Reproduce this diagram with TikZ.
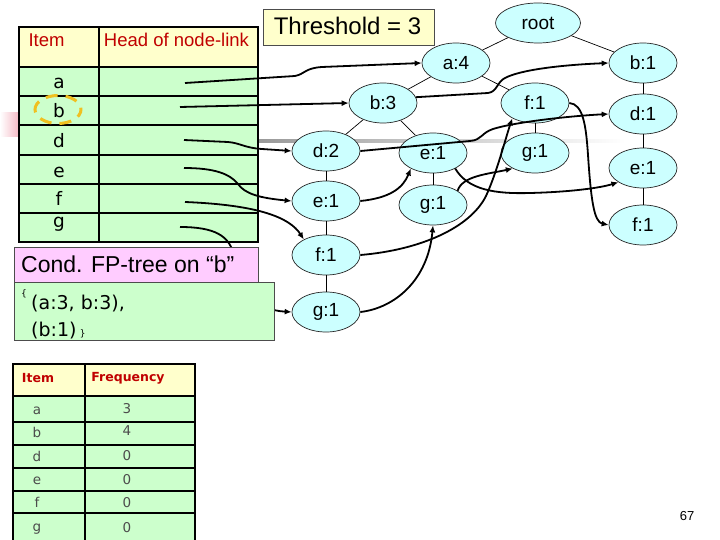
\documentclass[tikz,border=0pt]{standalone}
\usepackage{fontspec}
\setmainfont{Liberation Sans}
\newfontfamily\dvs{DejaVu Sans}
\usetikzlibrary{shapes.geometric,arrows.meta}
\definecolor{tgreen}{HTML}{CCFFCC}
\definecolor{tyellow}{HTML}{FFFFCC}
\definecolor{tpink}{HTML}{FFCCFF}
\definecolor{tcyan}{HTML}{CCFFFF}
\definecolor{hred}{HTML}{C00000}
\definecolor{hilite}{HTML}{F0C020}
\definecolor{slidepink}{HTML}{F4B8C4}
\begin{document}
\begin{tikzpicture}[x=1pt,y=-1pt,
  tnode/.style={ellipse,draw=black!85,line width=0.7pt,fill=tcyan,minimum width=68pt,minimum height=40pt,inner sep=0pt,font=\fontsize{19}{22}\selectfont},
  tedge/.style={line width=0.7pt},
  link/.style={line width=1.8pt,-{Latex[length=7pt,width=6pt]}},
  hdr/.style={text=hred,font=\fontsize{18.5}{21}\selectfont,inner sep=0pt},
  itm/.style={font=\dvs\fontsize{18.5}{21}\selectfont,inner sep=0pt,anchor=base},
  hdrb/.style={text=hred,font=\dvs\bfseries\fontsize{12.5}{14}\selectfont,inner sep=0pt},
  cell/.style={text=black!70,font=\dvs\fontsize{13.5}{15}\selectfont,inner sep=0pt,anchor=base},
  thin grid/.style={line width=1.3pt},
  thick frame/.style={line width=2.6pt},
]
\useasboundingbox (0,0) rectangle (720,540);
\fill[white] (0,0) rectangle (720,540);
% slide decorations
\shade[left color=white,right color=slidepink] (0,113) rectangle (19,137);
\shade[left color=black!40,right color=white] (258,140) rectangle (625,143);

% ---------- header table ----------
\fill[tyellow] (19,27) rectangle (258,67);
\fill[tgreen] (19,67) rectangle (258,242);
\foreach \yy in {67,96,125,155,184,213} \draw[thin grid] (19,\yy) -- (258,\yy);
\draw[thin grid] (99,27) -- (99,242);
\draw[thick frame] (19,27) rectangle (258,242);
\node[hdr] (hitem) at (46.5,40) {Item};
\node[hdr] (hhead) at (176.5,40) {Head of node-link};
\node[itm] (ia) at (59,89) {a};
\node[itm] (ib) at (59,118) {b};
\node[itm] (id) at (59,148) {d};
\node[itm] (ie) at (59,178) {e};
\node[itm] (if) at (59,206) {f};
\node[itm] (ig) at (59,228) {g};
\draw[hilite,line width=3pt,dash pattern=on 12pt off 8pt,dash phase=4pt] (58,109.5) ellipse [x radius=23,y radius=14];

\coordinate (la) at (185,83);
\coordinate (lb) at (180,107);
\coordinate (ld) at (184,140);
\coordinate (le) at (184,168);
\coordinate (lf) at (185,202);
\coordinate (lg) at (180,227);

% ---------- tree ----------
\node[tnode,minimum width=85pt] (root) at (538,23) {root};
\node[tnode] (a4) at (456,63) {a:4};
\node[tnode] (b1) at (643,63) {b:1};
\node[tnode] (b3) at (383,103) {b:3};
\node[tnode] (f1T) at (535,103) {f:1};
\node[tnode] (d1) at (643,114) {d:1};
\node[tnode] (d2) at (326,151) {d:2};
\node[tnode] (e1M) at (433,153) {e:1};
\node[tnode] (g1R) at (535,153) {g:1};
\node[tnode] (e1R) at (643,168) {e:1};
\node[tnode] (e1L) at (326,201) {e:1};
\node[tnode] (g1M) at (433,205) {g:1};
\node[tnode] (f1R) at (643,225) {f:1};
\node[tnode] (f1L) at (326,255) {f:1};
\node[tnode] (g1L) at (326,312) {g:1};

\draw[tedge] (root) -- (a4);
\draw[tedge] (root) -- (b1);
\draw[tedge] (a4) -- (b3);
\draw[tedge] (a4) -- (f1T);
\draw[tedge] (b3) -- (d2);
\draw[tedge] (b3) -- (e1M);
\draw[tedge] (d2) -- (e1L);
\draw[tedge] (e1L) -- (f1L);
\draw[tedge] (f1L) -- (g1L);
\draw[tedge] (e1M) -- (g1M);
\draw[tedge] (f1T) -- (g1R);
\draw[tedge] (b1) -- (d1);
\draw[tedge] (d1) -- (e1R);
\draw[tedge] (e1R) -- (f1R);

% ---------- node links ----------
\draw[link] (la) -- (295,76) .. controls (305,74) and (305,68) .. (322,67) -- (a4.west);
\draw[link] (lb) -- (b3.west);
\draw[link] (b3.10) -- (488,93) .. controls (497,92) and (497,82) .. (505,78) .. controls (520,70) and (560,65) .. (b1.west);
\draw[link] (ld) -- (228,142) .. controls (240,143) and (245,148) .. (262,149) -- (d2.west);
\draw[link] (d2.east) -- (470,141) .. controls (482,140) and (481,133) .. (493,129) .. controls (515,122) and (570,116) .. (d1.west);
\draw[link] (le) .. controls (215,168) and (230,174) .. (238,184) .. controls (245,194) and (260,198) .. (e1L.west);
\draw[link] (e1L.east) .. controls (390,198) and (403,188) .. (e1M.215);
\draw[link] (e1M.-35) .. controls (468,190) and (495,194) .. (530,193) .. controls (570,192) and (600,188) .. (e1R.210);
\draw[link] (lf) .. controls (260,205) and (290,218) .. (f1L.145);
\draw[link] (f1L.east) .. controls (420,250) and (470,228) .. (486,196) .. controls (497,172) and (505,140) .. (f1T.214);
\draw[link] (g1M.30) .. controls (462,176) and (488,174) .. (g1R.215);
\draw[link] (lg) .. controls (215,227) and (228,236) .. (233,252) .. controls (240,290) and (255,310) .. (g1L.west);
\draw[link] (g1L.east) .. controls (395,308) and (428,280) .. (g1M.south);
\draw[link] (f1T.east) .. controls (583,104) and (586,125) .. (588,155) .. controls (591,200) and (594,222) .. (f1R.west);

% ---------- conditional tree boxes ----------
\draw[fill=tpink,draw=black!70,line width=0.8pt] (14,247) rectangle (258,282);
\node[anchor=base west,inner sep=0pt,font=\fontsize{23}{26}\selectfont] (cond) at (21,272) {Cond. FP-tree on “b”};
\draw[fill=tgreen,draw=black!70,line width=0.8pt] (14,282) rectangle (274,340);
\node[anchor=base west,inner sep=0pt,font=\dvs\fontsize{9}{10}\selectfont] (lbr) at (21,296) {\{};
\node[anchor=base west,inner sep=0pt,font=\dvs\fontsize{19}{22}\selectfont] (l1) at (31,309) {(a:3, b:3),};
\node[anchor=base west,inner sep=0pt,font=\dvs\fontsize{19}{22}\selectfont] (l2) at (31,336) {(b:1)};
\node[anchor=base west,inner sep=0pt,font=\dvs\fontsize{9}{10}\selectfont] (rbr) at (l2.base east) {\ \}};

% ---------- threshold ----------
\draw[fill=tyellow,draw=black!70,line width=0.8pt] (263,9) rectangle (434,45);
\node[anchor=base,inner sep=0pt,font=\fontsize{24}{28}\selectfont] (thr) at (347.5,35) {Threshold = 3};

% ---------- frequency table ----------
\fill[tyellow] (13,364) rectangle (195,396);
\fill[tgreen] (13,396) rectangle (195,545);
\foreach \yy in {396,422,445,468,491,513} \draw[line width=2pt] (13,\yy) -- (195,\yy);
\draw[line width=2pt] (85,364) -- (85,545);
\draw[thick frame] (13,364) rectangle (195,545);
\node[hdrb] (fitem) at (38,378) {Item};
\node[hdrb] (ffreq) at (128,378) {Frequency};
\node[cell] (ca) at (37,414) {a};   \node[cell] (va) at (127,413) {3};
\node[cell] (cb) at (37,437) {b};   \node[cell] (vb) at (127,435) {4};
\node[cell] (cd) at (37,461) {d};   \node[cell] (vd) at (127,460) {0};
\node[cell] (ce) at (37,484) {e};   \node[cell] (ve) at (127,484) {0};
\node[cell] (cf) at (37,507) {f};   \node[cell] (vf) at (127,507) {0};
\node[cell] (cg) at (37,531) {g};   \node[cell] (vg) at (127,532) {0};

% page number
\node[anchor=base,inner sep=0pt,font=\fontsize{13}{15}\selectfont] (pg) at (687,520) {67};
\end{tikzpicture}
\end{document}
